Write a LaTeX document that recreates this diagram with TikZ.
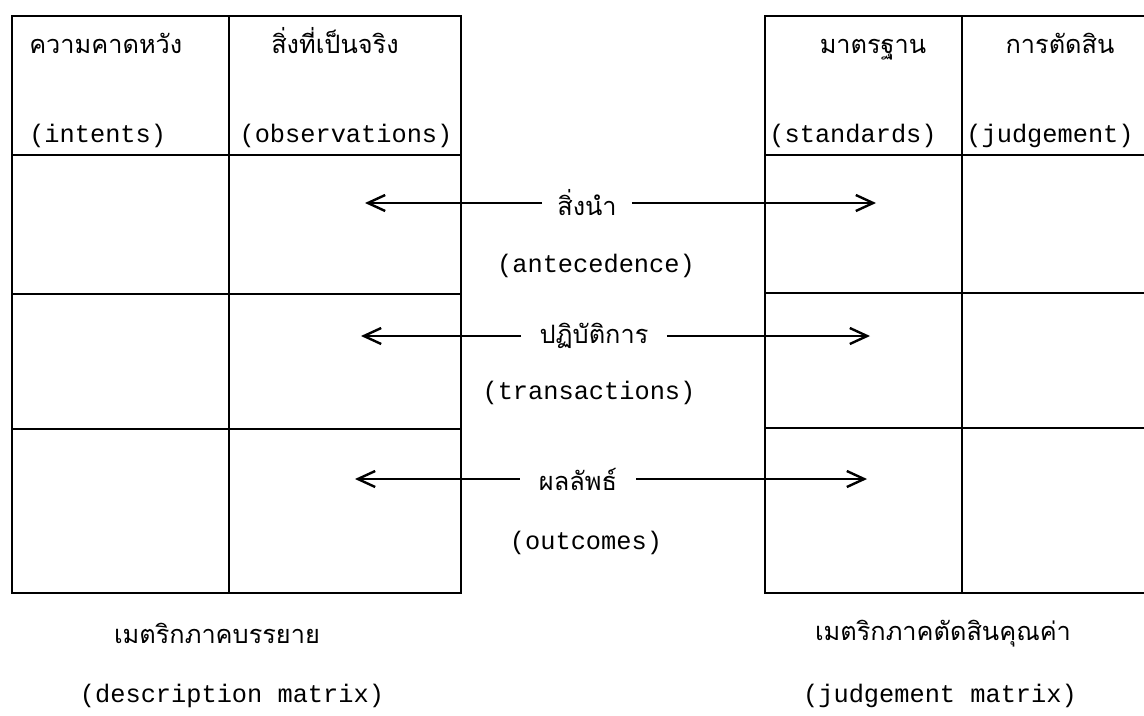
\documentclass[tikz,border=0pt]{standalone}
\usepackage{fontspec}
\setmonofont{Liberation Mono}
\newfontfamily\thaifont[Script=Thai]{Loma}
\usetikzlibrary{arrows.meta}
\begin{document}
\begin{tikzpicture}[x=0.75pt,y=-0.75pt,
  grid/.style={line width=1.9pt,line cap=rect},
  eng/.style={font=\ttfamily\fontsize{19}{22}\selectfont,inner sep=0pt,anchor=base},
  th/.style={font=\thaifont\fontsize{19}{22}\selectfont,inner sep=0pt,anchor=base},
  gap/.style={font=\thaifont\fontsize{19}{22}\selectfont,inner sep=0pt,minimum height=10pt},
  arr/.style={line width=1.8pt,-{Straight Barb[length=13pt,width=12pt,line width=1.8pt]}}]
\useasboundingbox (0,0) rectangle (1144,715);
\clip (0,0) rectangle (1144,715);
% ---------- left matrix (description) ----------
\coordinate (L1) at (12,16);
\coordinate (L2) at (461,593);
\draw[grid] (L1) rectangle (L2);
\draw[grid] (229,16) -- (229,593);
\draw[grid] (12,155) -- (461,155);
\draw[grid] (12,294) -- (461,294);
\draw[grid] (12,429) -- (461,429);
% ---------- right matrix (judgement) ----------
\coordinate (R1) at (765,16);
\coordinate (R2) at (1170,593);
\draw[grid] (R1) rectangle (R2);
\draw[grid] (962,16) -- (962,593);
\draw[grid] (765,155) -- (1170,155);
\draw[grid] (765,293) -- (1170,293);
\draw[grid] (765,428) -- (1170,428);
% ---------- headers ----------
\node[th,anchor=base west] (hint) at (29,53) {ความคาดหวัง};
\node[eng,anchor=base west] (eint) at (29,142) {(intents)};
\node[th] (hobs) at (335,53) {สิ่งที่เป็นจริง};
\node[eng] (eobs) at (346,142) {(observations)};
\node[th] (hstd) at (873,53) {มาตรฐาน};
\node[eng] (estd) at (853,142) {(standards)};
\node[th] (hjud) at (1060,53) {การตัดสิน};
\node[eng] (ejud) at (1050,142) {(judgement)};
% ---------- arrows ----------
\node[gap,minimum width=89*0.75pt] (g1) at (587,203) {สิ่งนำ};
\coordinate (a1l) at (365,203);
\coordinate (a1r) at (876,203);
\draw[arr] (g1.west |- a1l) -- (a1l);
\draw[arr] (g1.east |- a1r) -- (a1r);
\node[eng] (e1) at (596,272) {(antecedence)};
\node[gap,minimum width=145*0.75pt] (g2) at (594,336) {ปฏิบัติการ};
\coordinate (a2l) at (361,336);
\coordinate (a2r) at (870,336);
\draw[arr] (g2.west |- a2l) -- (a2l);
\draw[arr] (g2.east |- a2r) -- (a2r);
\node[eng] (e2) at (589,399) {(transactions)};
\node[gap,minimum width=116*0.75pt] (g3) at (578,479) {ผลลัพธ์};
\coordinate (a3l) at (355,479);
\coordinate (a3r) at (867,479);
\draw[arr] (g3.west |- a3l) -- (a3l);
\draw[arr] (g3.east |- a3r) -- (a3r);
\node[eng] (e3) at (586,549) {(outcomes)};
% ---------- captions ----------
\node[th] (cdl) at (217,643) {เมตริกภาคบรรยาย};
\node[eng] (cde) at (232,702) {(description matrix)};
\node[th] (cjl) at (943,640) {เมตริกภาคตัดสินคุณค่า};
\node[eng] (cje) at (940,702) {(judgement matrix)};
\end{tikzpicture}
\end{document}
